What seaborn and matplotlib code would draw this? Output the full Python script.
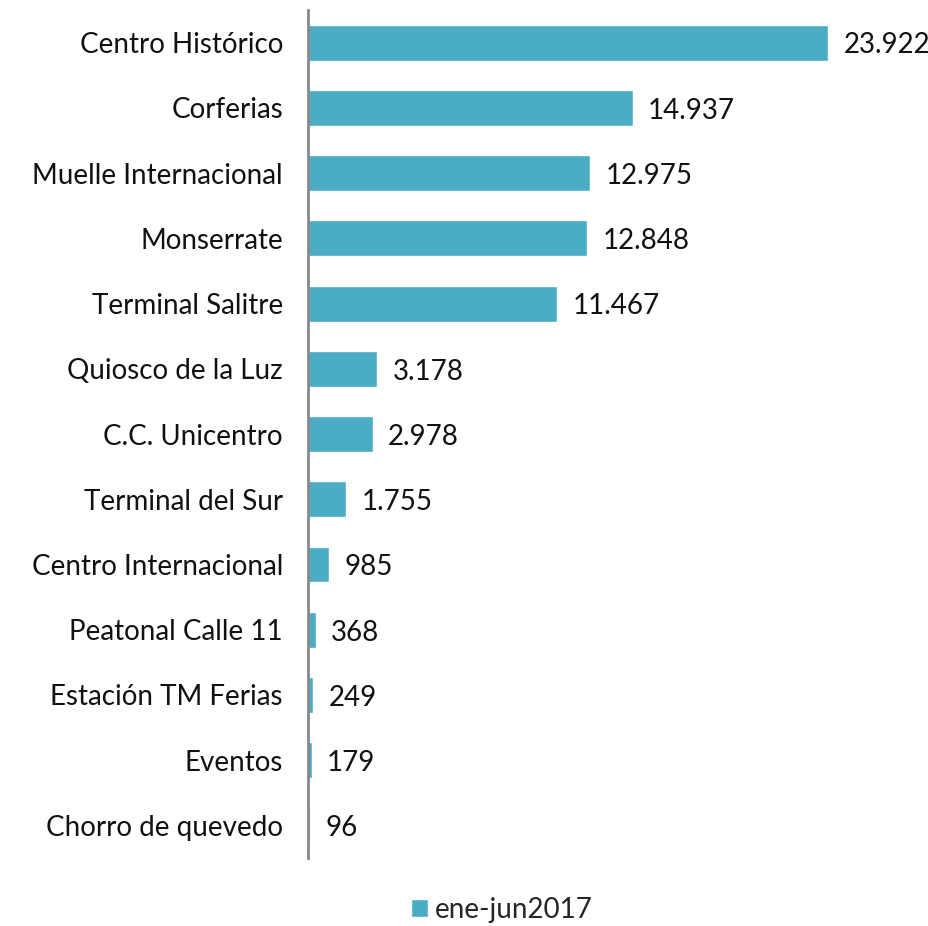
import pandas as pd
import seaborn as sns
import matplotlib.pyplot as plt

# datos
lugares = ["Centro Histórico", "Corferias", "Muelle Internacional", "Monserrate",
           "Terminal Salitre", "Quiosco de la Luz", "C.C. Unicentro", "Terminal del Sur",
           "Centro Internacional", "Peatonal Calle 11", "Estación TM Ferias", "Eventos",
           "Chorro de quevedo"]
valores = [23922, 14937, 12975, 12848, 11467, 3178, 2978, 1755, 985, 368, 249, 179, 96]
serie = "ene-jun2017"

df = pd.DataFrame({"Lugar": lugares, "Valor": valores})

sns.set_style("white")
plt.rcParams['font.family'] = ['Lato', 'DejaVu Sans']

color = "#4BACC6"
fig = plt.figure(figsize=(9.29, 9.26), dpi=100)
ax = fig.add_axes([0.3315, 0.0734, 0.6555, 0.9157])

sns.barplot(data=df, x="Valor", y="Lugar", color=color, width=0.55, ax=ax,
            saturation=1, label=serie)

ax.set_xlim(0, 28000)
ax.set_ylim(len(lugares) - 0.5, -0.5)
ax.set_xlabel("")
ax.set_ylabel("")
ax.set_xticks([])
ax.tick_params(axis="y", length=0, pad=18, labelsize=20, labelcolor="#111111")

for s in ["top", "right", "bottom"]:
    ax.spines[s].set_visible(False)
ax.spines["left"].set_color("#888888")
ax.spines["left"].set_linewidth(2)

# etiquetas de valores
for i, v in enumerate(valores):
    txt = f"{v:,}".replace(",", ".")
    ax.annotate(txt, (v, i), xytext=(11, -2), textcoords="offset points",
                ha="left", va="center", fontsize=20, color="#111111")

ax.legend_.remove() if ax.legend_ else None
h, l = ax.get_legend_handles_labels()
fig.legend(h, l, loc="center", bbox_to_anchor=(0.54, 16 / 926), frameon=False,
           fontsize=20, handlelength=0.6, handleheight=0.6, handletextpad=0.25)

plt.savefig("out.png", dpi=100)
